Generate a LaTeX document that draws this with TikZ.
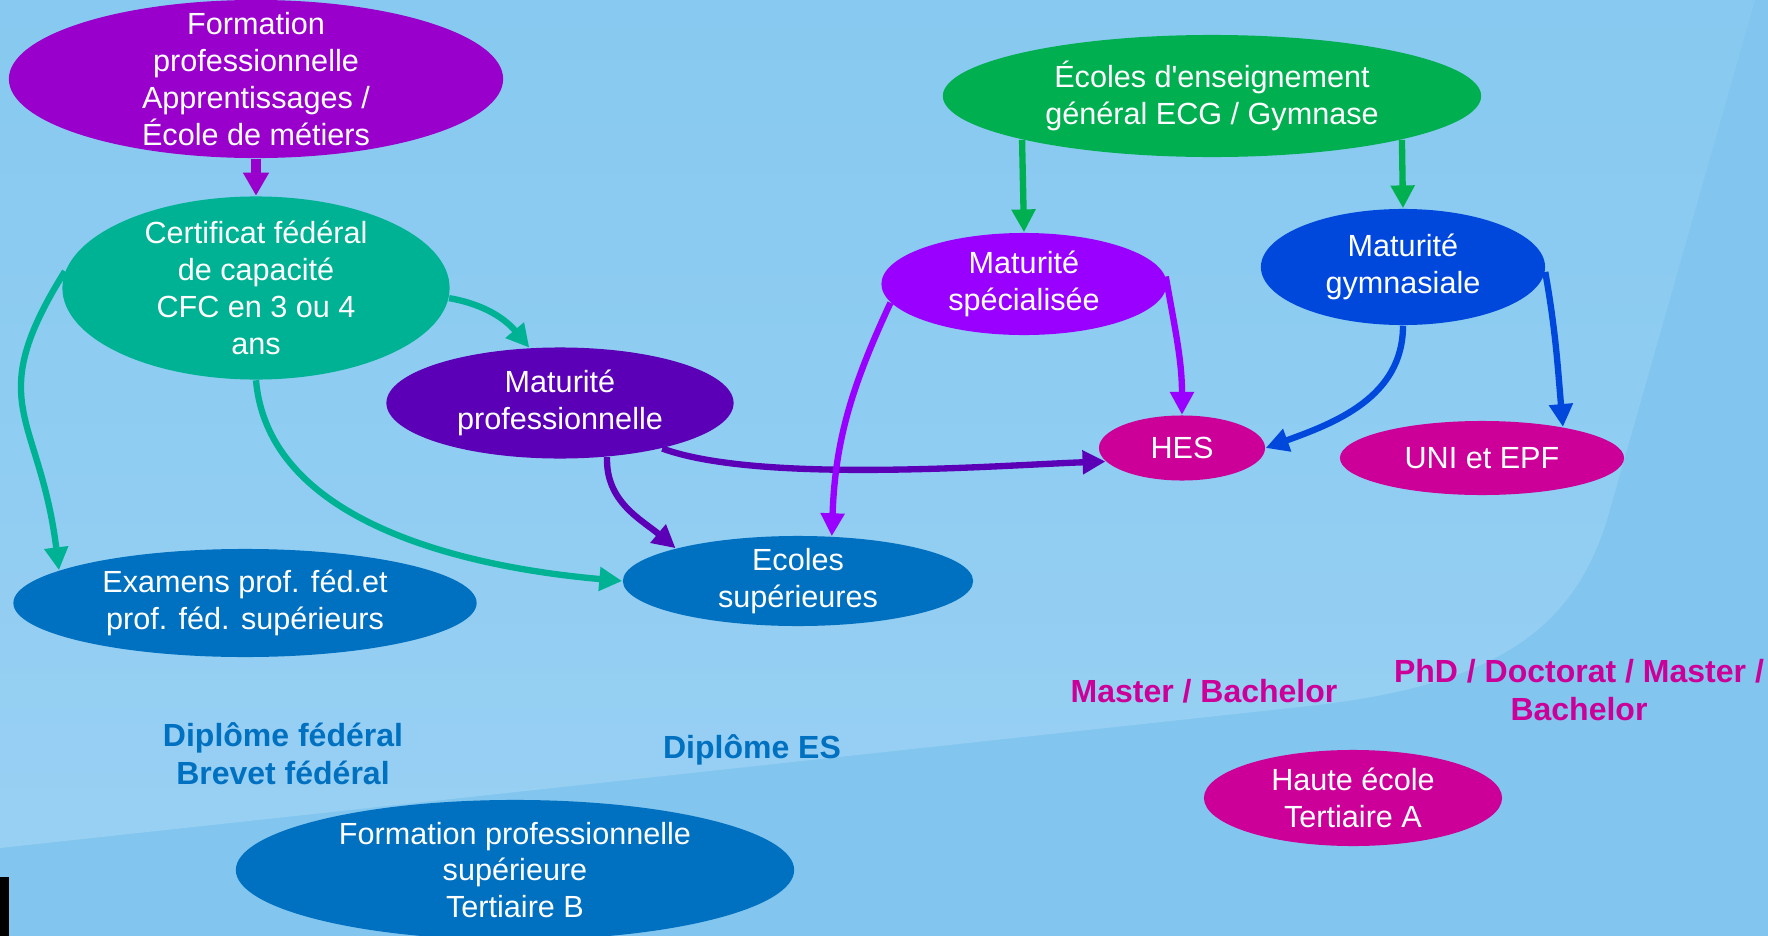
\documentclass[tikz,border=0pt]{standalone}
\usepackage{fontspec}
\setmainfont{Liberation Sans}[Ligatures=TeXOff]
\usetikzlibrary{shapes.geometric}
\usetikzlibrary{arrows.meta}
\definecolor{bgbase}{HTML}{82C5EE}
\definecolor{bgtop}{HTML}{87C9F0}
\definecolor{bglow}{HTML}{98D0F3}
\definecolor{fpviolet}{HTML}{9900CC}
\definecolor{cfcteal}{HTML}{00B294}
\definecolor{mpviolet}{HTML}{5B00B7}
\definecolor{esblue}{HTML}{0070C0}
\definecolor{ecggreen}{HTML}{00B050}
\definecolor{msviolet}{HTML}{9900FF}
\definecolor{mgblue}{HTML}{0048DC}
\definecolor{hesmag}{HTML}{CC0099}
\tikzset{bubble/.style={
  ellipse, inner sep=0pt
}}
\tikzset{words/.style={
  text=white, align=center, inner sep=0pt,
  font=\fontsize{8.7}{10.5}\selectfont
}}
\tikzset{flow/.style={
  line width=1.8pt, -{Triangle[length=6.5pt,width=6.5pt]}
}}
\tikzset{tag/.style={
  align=center, font=\fontsize{9.1}{10.8}\selectfont\bfseries
}}

\begin{document}
\begin{tikzpicture}[x=0.01cm,y=-0.01cm]
  \useasboundingbox (0,0) rectangle (1768,936);
  % background
  \fill[bgbase] (0,0) rectangle (1768,936);
  \shade[top color=bgtop,bottom color=bglow] (0,0) -- (1755,0) -- (1607,520)
    .. controls (1570,640) and (1480,688) .. (1300,707) -- (0,848) -- cycle;
  \fill[black] (0,877) rectangle (9,936);

  % vocational side
  \node[bubble,fill=fpviolet,minimum width=4.94cm,minimum height=1.58cm,
    label={[words]center:{Formation\\professionnelle\\Apprentissages /\\École de métiers}}] (fp) at (256,79) {};
  \node[bubble,fill=cfcteal,minimum width=3.87cm,minimum height=1.83cm,
    label={[words]center:{Certificat fédéral\\de capacité\\CFC en 3 ou 4\\ans}}] (cfc) at (256,288) {};
  \node[bubble,fill=mpviolet,minimum width=3.47cm,minimum height=1.11cm,
    label={[words]center:{Maturité\\professionnelle}}] (mp) at (560,403) {};
  \node[bubble,fill=esblue,minimum width=4.63cm,minimum height=1.08cm,
    label={[words]center:{Examens prof. féd.et\\prof. féd. supérieurs}}] (exam) at (245,603) {};
  \node[bubble,fill=esblue,minimum width=3.5cm,minimum height=0.9cm,
    label={[words]center:{Ecoles\\supérieures}}] (es) at (798,581) {};
  \node[bubble,fill=esblue,minimum width=5.58cm,minimum height=1.4cm,
    label={[words]center:{Formation professionnelle\\supérieure\\Tertiaire B}}] (fps) at (515,870) {};

  % general side
  \node[bubble,fill=ecggreen,minimum width=5.38cm,minimum height=1.22cm,
    label={[words]center:{Écoles d'enseignement\\général ECG / Gymnase}}] (ecg) at (1212,96) {};
  \node[bubble,fill=msviolet,minimum width=2.85cm,minimum height=1.02cm,
    label={[words]center:{Maturité\\spécialisée}}] (ms) at (1024,284) {};
  \node[bubble,fill=mgblue,minimum width=2.84cm,minimum height=1.16cm,
    label={[words]center:{Maturité\\gymnasiale}}] (mg) at (1403,267) {};
  \node[bubble,fill=hesmag,minimum width=1.66cm,minimum height=0.65cm,
    label={[words]center:HES}] (hes) at (1182,448) {};
  \node[bubble,fill=hesmag,minimum width=2.84cm,minimum height=0.74cm,
    label={[words]center:UNI et EPF}] (uni) at (1482,458) {};
  \node[bubble,fill=hesmag,minimum width=2.98cm,minimum height=0.96cm,
    label={[words]center:{Haute école\\Tertiaire A}}] (hea) at (1353,798) {};

  % titles
  \node[tag,text=esblue] (dfed) at (283,754) {Diplôme fédéral\\Brevet fédéral};
  \node[tag,text=esblue] (des) at (752,750) {Diplôme ES};
  \node[tag,text=hesmag] (mb) at (1204,691) {Master / Bachelor};
  \node[tag,text=hesmag] (phd) at (1579,690) {PhD / Doctorat / Master /\\Bachelor};

  % connections
  \draw[fpviolet,line width=3pt,-{Triangle[length=6.6pt,width=7pt]}] (fp) -- (cfc);
  \draw[flow,cfcteal] (cfc.-3) to[out=-10,in=130] (mp.119);
  \draw[flow,cfcteal] (cfc.175) to[out=238,in=97,looseness=1.35] (exam.170);
  \draw[flow,cfcteal] (cfc.south) to[out=-85,in=175,looseness=0.9] (es.west);
  \draw[flow,mpviolet] (mp.-49) to[out=-92,in=140] (es.165);
  \draw[flow,mpviolet] (mp.-24) to[out=-20,in=182,looseness=0.6] (hes.190);
  \draw[flow,msviolet] (ms.188) to[out=245,in=88] (es.53);
  \draw[flow,msviolet] (ms.3) to[out=-80,in=90] (hes.north);
  \draw[flow,ecggreen] (ecg.193) -- (ms.north);
  \draw[flow,ecggreen] (ecg.-13) -- (mg.north);
  \draw[flow,mgblue] (mg.south) to[out=-90,in=20] (hes.east);
  \draw[flow,mgblue] (mg.-2) to[out=-80,in=95] (uni.21);
\end{tikzpicture}
\end{document}
